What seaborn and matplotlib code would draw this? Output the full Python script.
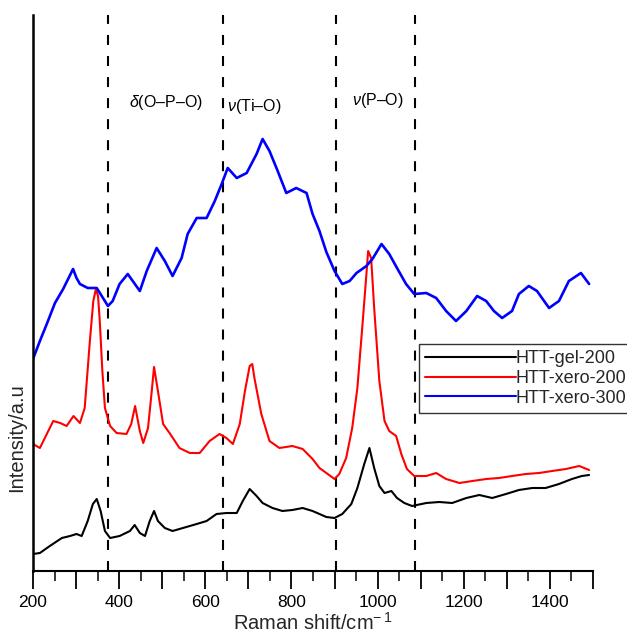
import numpy as np
import pandas as pd
import matplotlib
matplotlib.use("Agg")
import matplotlib.pyplot as plt
import seaborn as sns
from matplotlib.ticker import FixedLocator, FuncFormatter

# ---- data (intensity in arbitrary units) ----
gel200_x = [200, 216, 239, 267, 286, 301, 313, 327, 339, 348, 357, 367, 379, 401, 425, 436,
            448, 460, 471, 481, 490, 506, 524, 548, 580, 603, 626, 649, 673, 687, 703, 719,
            733, 756, 779, 802, 826, 849, 865, 881, 900, 918, 939, 953, 969, 981, 992, 1004,
            1016, 1032, 1045, 1062, 1080, 1113, 1143, 1173, 1206, 1236, 1266, 1298, 1328,
            1359, 1390, 1421, 1451, 1474, 1491]
gel200_y = [17, 18, 25, 33, 35, 37, 35, 50, 67, 72, 60, 40, 33, 35, 40, 46,
            38, 35, 50, 60, 50, 43, 40, 43, 47, 50, 57, 58, 58, 70, 82, 75,
            68, 63, 60, 61, 63, 60, 57, 54, 53, 57, 67, 83, 107, 123, 103, 85,
            78, 80, 73, 68, 65, 68, 69, 68, 73, 76, 73, 77, 81,
            83, 83, 87, 92, 95, 96]

xero200_x = [200, 216, 232, 247, 263, 278, 294, 309, 320, 332, 340, 346, 351, 355, 361, 367,
             379, 394, 417, 428, 437, 448, 456, 467, 475, 481, 490, 502, 517, 540, 564, 587,
             610, 633, 649, 664, 680, 692, 703, 709, 714, 730, 749, 772, 802, 826, 849, 865,
             881, 900, 911, 927, 941, 953, 965, 974, 978, 985, 992, 1004, 1016, 1027, 1043,
             1055, 1068, 1085, 1113, 1136, 1159, 1190, 1220, 1252, 1282, 1312, 1344, 1375,
             1405, 1437, 1468, 1491]
xero200_y = [127, 123, 137, 150, 148, 145, 155, 148, 163, 230, 270, 282, 275, 250, 200, 163,
             145, 138, 137, 147, 165, 140, 128, 143, 177, 204, 180, 147, 138, 123, 118, 118,
             130, 137, 133, 127, 147, 180, 205, 207, 193, 157, 130, 123, 125, 122, 112, 103,
             98, 92, 97, 113, 143, 183, 247, 297, 320, 313, 263, 190, 150, 140, 135,
             117, 102, 95, 95, 98, 92, 88, 90, 92, 93, 95, 97, 98,
             100, 102, 105, 101]

xero300_x = [200, 216, 232, 251, 270, 293, 301, 309, 327, 348, 374, 385, 401, 420, 448, 464,
             487, 506, 524, 545, 559, 580, 603, 622, 638, 652, 673, 696, 719, 733, 749, 768,
             788, 811, 835, 849, 865, 881, 900, 918, 935, 951, 974, 988, 1009, 1027, 1045,
             1066, 1085, 1113, 1136, 1159, 1182, 1206, 1231, 1252, 1270, 1289, 1312, 1328,
             1351, 1370, 1398, 1421, 1444, 1472, 1491]
xero300_y = [212, 230, 247, 268, 282, 302, 293, 287, 283, 283, 265, 270, 287, 297, 280, 300,
             323, 310, 295, 313, 337, 353, 353, 370, 387, 403, 393, 398, 417, 432, 420, 400,
             378, 383, 378, 357, 340, 319, 300, 287, 290, 298, 305, 312, 327, 317, 303,
             287, 277, 278, 273, 260, 250, 260, 275, 270, 260, 253, 260, 277,
             285, 280, 263, 270, 290, 298, 287]

series_names = ["HTT-gel-200", "HTT-xero-200", "HTT-xero-300"]
series_colors = ["#000000", "#ff0000", "#0000ff"]

band_positions = [375, 640, 903, 1087]
band_labels = [r"$\delta$(O–P–O)", r"$\nu$(Ti–O)", r"$\nu$(P–O)"]
band_label_x = [508, 714, 1000]
band_label_y = [469, 465, 470]

x_tick_values = list(range(200, 1501, 100))

# ---- figure ----
sns.set_theme(style="white")
plt.rcParams["font.family"] = ["Liberation Sans", "DejaVu Sans"]
plt.rcParams["mathtext.fontset"] = "custom"
plt.rcParams["mathtext.rm"] = "Liberation Sans"
plt.rcParams["mathtext.it"] = "Liberation Sans:italic"

fig = plt.figure(figsize=(6.27, 6.41), dpi=100)
W, H = 627, 641
ax = fig.add_axes([33 / W, (H - 571) / H, 560 / W, 556 / H])

frames = []
for name, xs, ys in zip(series_names,
                        [gel200_x, xero200_x, xero300_x],
                        [gel200_y, xero200_y, xero300_y]):
    frames.append(pd.DataFrame({"shift": xs, "intensity": ys, "sample": name}))
df = pd.concat(frames, ignore_index=True)

sns.lineplot(data=df, x="shift", y="intensity", hue="sample", hue_order=series_names,
             palette=series_colors, linewidth=1.5, sort=True, estimator=None, ax=ax)
# blue trace is visually heavier (noisy) in the reference
for line in ax.get_lines():
    if line.get_color() in ("#0000ff", (0.0, 0.0, 1.0), (0.0, 0.0, 1.0, 1.0)):
        line.set_linewidth(1.9)

for bx in band_positions:
    ax.axvline(bx, color="black", linewidth=1.5, linestyle=(0, (4.8, 5.3)), zorder=0)

for lab, lx, ly in zip(band_labels, band_label_x, band_label_y):
    ax.text(lx, ly, lab, ha="center", va="center", fontsize=11.5, color="black")

ax.set_xlim(200, 1500)
ax.set_ylim(0, 556)
ax.set_yticks([])
ax.xaxis.set_major_locator(FixedLocator(x_tick_values))
ax.xaxis.set_major_formatter(FuncFormatter(lambda v, p: f"{int(v)}" if int(v) % 200 == 0 else ""))
ax.xaxis.set_minor_locator(FixedLocator([v + 50 for v in x_tick_values[:-1]]))
ax.tick_params(axis="x", which="major", direction="out", length=13, width=1.3,
               pad=4, labelsize=12.5, colors="black", bottom=True)
ax.tick_params(axis="x", which="minor", direction="out", length=7, width=1.3,
               bottom=True)

for side in ["top", "right"]:
    ax.spines[side].set_visible(False)
ax.spines["left"].set_linewidth(1.8)
ax.spines["bottom"].set_linewidth(1.5)
ax.spines["left"].set_color("black")
ax.spines["bottom"].set_color("black")

ax.set_xlabel(r"Raman shift/cm$^{-\,1}$", fontsize=14.5, labelpad=2)
ax.set_ylabel("Intensity/a.u", fontsize=14.5)
ax.yaxis.set_label_coords(-0.012, 0.24)

leg = ax.legend(loc="upper left", bbox_to_anchor=(419 / W, 1 - 344 / H),
                bbox_transform=fig.transFigure, fontsize=13, handlelength=5,
                handletextpad=0.0, frameon=True, fancybox=False, edgecolor="black",
                borderpad=0.35, labelspacing=0.15, borderaxespad=0)
leg.get_frame().set_linewidth(1.0)
for line in leg.get_lines():
    line.set_linewidth(1.5)

fig.savefig("out.png", dpi=100)
